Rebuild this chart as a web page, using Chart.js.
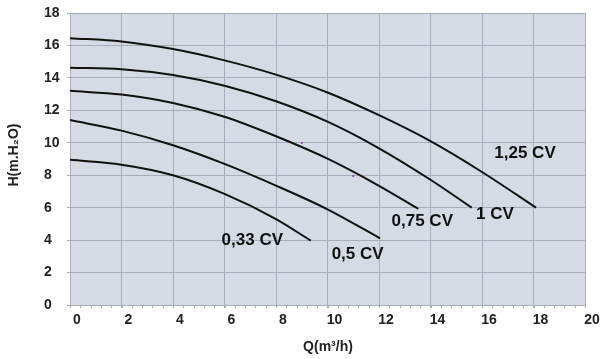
<!DOCTYPE html>
<html>
<head>
<meta charset="utf-8">
<script src="https://cdn.jsdelivr.net/npm/chart.js@4.4.0/dist/chart.umd.min.js"></script>
<style>
  html, body { margin: 0; padding: 0; background: #fff; }
  #wrap { width: 602px; height: 359px; }
</style>
</head>
<body>
<div id="wrap"><canvas id="chart"></canvas></div>
<script>
/* ── data ────────────────────────────────────────────────────── */
const xTicks = [0, 2, 4, 6, 8, 10, 12, 14, 16, 18, 20];
const yTicks = [0, 2, 4, 6, 8, 10, 12, 14, 16, 18];

const names  = ['1,25 CV', '1 CV', '0,75 CV', '0,5 CV', '0,33 CV'];

const q125 = [0, 2, 4, 6, 8, 10, 12, 14, 16, 18.1];
const h125 = [16.45, 16.25, 15.78, 15.08, 14.2, 13.1, 11.7, 10.1, 8.2, 6.0];

const q100 = [0, 2, 4, 6, 8, 10, 12, 14, 15.6];
const h100 = [14.62, 14.54, 14.18, 13.52, 12.56, 11.3, 9.66, 7.72, 6.0];

const q075 = [0, 2, 4, 6, 8, 10, 12, 13.53];
const h075 = [13.2, 12.97, 12.45, 11.6, 10.4, 9.02, 7.35, 5.92];

const q050 = [0, 2, 4, 6, 8, 10, 12.04];
const h050 = [11.4, 10.75, 9.85, 8.7, 7.36, 5.9, 4.11];

const q033 = [0, 2, 4, 6, 8, 9.35];
const h033 = [8.95, 8.65, 8.0, 6.85, 5.3, 3.97];

// curve labels, placed in data units (Q, H)
const labelQ = [17.67, 16.5, 13.68, 11.17, 7.08];
const labelH = [9.37, 5.62, 5.18, 3.15, 3.98];

// stray dots visible on the plot
const dotQ = [9.0, 11.0];
const dotH = [9.99, 7.95];

const FONT = "'Liberation Sans', Arial, sans-serif";
const pts = (qs, hs) => qs.map((q, i) => ({ x: q, y: hs[i] }));

const curve = (label, qs, hs) => ({
  label,
  data: pts(qs, hs),
  borderColor: '#111',
  borderWidth: 2,
  pointRadius: 0,
  fill: false,
  cubicInterpolationMode: 'monotone',
});

/* ── plot background, minor ticks, titles, curve labels ────────── */
const decor = {
  id: 'decor',
  beforeDraw(chart) {
    const { ctx, chartArea: a } = chart;
    ctx.save();
    ctx.fillStyle = '#d6dae4';
    ctx.fillRect(a.left, a.top, a.right - a.left, a.bottom - a.top);
    ctx.restore();
  },
  afterDraw(chart) {
    const { ctx, chartArea: a, scales: { x, y } } = chart;
    ctx.save();

    // minor ticks under the x axis
    ctx.strokeStyle = '#a7abb7';
    ctx.lineWidth = 1;
    for (let v = 0; v <= 20.001; v += 0.4) {
      const px = Math.round(x.getPixelForValue(v)) + 0.5;
      ctx.beginPath();
      ctx.moveTo(px, a.bottom);
      ctx.lineTo(px, a.bottom + 3);
      ctx.stroke();
    }

    // axis titles
    ctx.fillStyle = '#222';
    ctx.font = `bold 14px ${FONT}`;
    ctx.textAlign = 'center';
    ctx.textBaseline = 'middle';
    ctx.fillText('Q(m³/h)', 328, 347);
    ctx.translate(14, 155);
    ctx.rotate(-Math.PI / 2);
    ctx.fillText('H(m.H₂O)', 0, 0);
    ctx.setTransform(1, 0, 0, 1, 0, 0);

    // curve names
    ctx.font = `bold 17px ${FONT}`;
    ctx.fillStyle = '#111';
    names.forEach((n, i) => {
      ctx.fillText(n, x.getPixelForValue(labelQ[i]), y.getPixelForValue(labelH[i]));
    });
    ctx.restore();
  }
};

new Chart(document.getElementById('chart'), {
  type: 'line',
  data: {
    datasets: [
      curve(names[0], q125, h125),
      curve(names[1], q100, h100),
      curve(names[2], q075, h075),
      curve(names[3], q050, h050),
      curve(names[4], q033, h033),
      {
        label: 'dots',
        data: pts(dotQ, dotH),
        showLine: false,
        pointRadius: 1,
        pointBorderWidth: 0,
        pointBackgroundColor: '#8b2fb0',
      },
    ],
  },
  options: {
    responsive: true,
    maintainAspectRatio: false,
    animation: false,
    layout: { padding: { left: 44, right: 17, top: 13, bottom: 0 } },
    plugins: { legend: { display: false }, tooltip: { enabled: false } },
    scales: {
      x: {
        type: 'linear',
        min: 0, max: 20,
        afterBuildTicks: s => { s.ticks = xTicks.map(v => ({ value: v })); },
        afterFit: s => { s.height = 54; },
        grid: { color: '#a9adb9', tickLength: 3, drawTicks: true },
        border: { color: '#a9adb9' },
        ticks: {
          color: '#222',
          font: { family: FONT, size: 14, weight: 'bold' },
          padding: 4,
          labelOffset: 7,
          maxRotation: 0,
        },
      },
      y: {
        type: 'linear',
        min: 0, max: 18,
        afterBuildTicks: s => { s.ticks = yTicks.map(v => ({ value: v })); },
        afterFit: s => { s.width = 26; },
        grid: { color: '#a9adb9', tickLength: 3 },
        border: { color: '#a9adb9' },
        ticks: {
          color: '#222',
          font: { family: FONT, size: 14, weight: 'bold' },
          crossAlign: 'far',
        },
      },
    },
  },
  plugins: [decor],
});
</script>
</body>
</html>
